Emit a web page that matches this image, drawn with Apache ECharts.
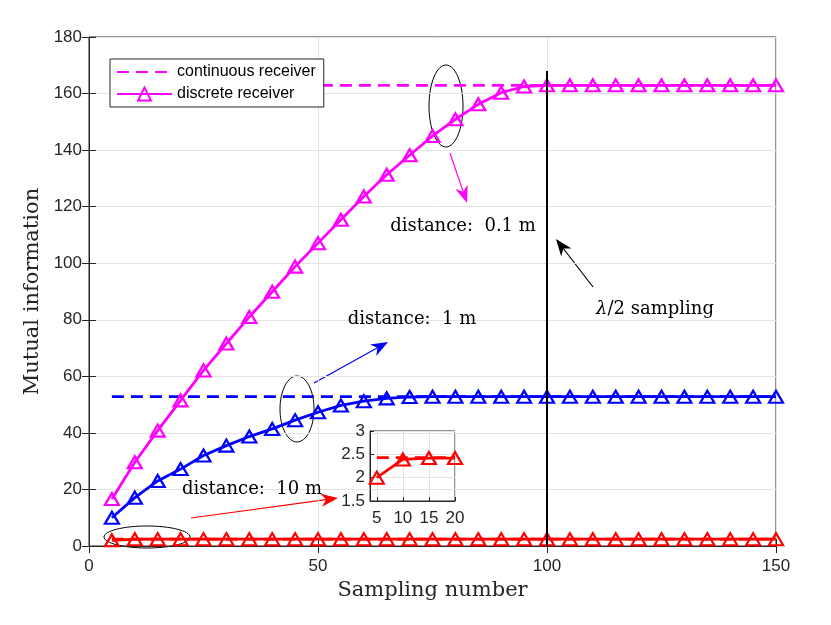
<!DOCTYPE html>
<html lang="en">
<head>
<meta charset="UTF-8">
<title>Mutual information vs sampling number</title>
<script src="https://cdn.jsdelivr.net/npm/echarts@6.0.0/dist/echarts.min.js"></script>
<style>
    html, body { margin: 0; padding: 0; background: #fff; }
    #main { width: 831px; height: 625px; }
</style>
</head>
<body>
<div id="main"></div>
<script type="text/javascript">

    // sampling number (x)
    var samplingNumber = [5, 10, 15, 20, 25, 30, 35, 40, 45, 50, 55, 60, 65, 70, 75,
        80, 85, 90, 95, 100, 105, 110, 115, 120, 125, 130, 135, 140, 145, 150];

    // distance 0.1 m
    var discrete01 = [16.6, 29.6, 40.8, 51.5, 62.1, 71.6, 81.0, 89.9, 98.8, 107.1, 115.4, 123.6, 131.3, 138.2, 145.0,
        150.9, 156.2, 160.3, 162.5, 162.9, 162.9, 162.9, 162.9, 162.9, 162.9, 162.9, 162.9, 162.9, 162.9, 162.9];
    var continuous01 = [162.9, 162.9, 162.9, 162.9, 162.9, 162.9, 162.9, 162.9, 162.9, 162.9, 162.9, 162.9, 162.9, 162.9, 162.9,
        162.9, 162.9, 162.9, 162.9, 162.9, 162.9, 162.9, 162.9, 162.9, 162.9, 162.9, 162.9, 162.9, 162.9, 162.9];

    // distance 1 m
    var discrete1 = [10.0, 17.1, 23.0, 27.2, 32.0, 35.5, 38.7, 41.4, 44.5, 47.3, 49.7, 51.2, 52.2, 52.7, 52.8,
        52.8, 52.8, 52.8, 52.8, 52.8, 52.8, 52.8, 52.8, 52.8, 52.8, 52.8, 52.8, 52.8, 52.8, 52.8];
    var continuous1 = [52.8, 52.8, 52.8, 52.8, 52.8, 52.8, 52.8, 52.8, 52.8, 52.8, 52.8, 52.8, 52.8, 52.8, 52.8,
        52.8, 52.8, 52.8, 52.8, 52.8, 52.8, 52.8, 52.8, 52.8, 52.8, 52.8, 52.8, 52.8, 52.8, 52.8];

    // distance 10 m
    var discrete10 = [2.0, 2.39, 2.42, 2.42, 2.42, 2.42, 2.42, 2.42, 2.42, 2.42, 2.42, 2.42, 2.42, 2.42, 2.42,
        2.42, 2.42, 2.42, 2.42, 2.42, 2.42, 2.42, 2.42, 2.42, 2.42, 2.42, 2.42, 2.42, 2.42, 2.42];
    var continuous10 = [2.43, 2.43, 2.43, 2.43, 2.43, 2.43, 2.43, 2.43, 2.43, 2.43, 2.43, 2.43, 2.43, 2.43, 2.43,
        2.43, 2.43, 2.43, 2.43, 2.43, 2.43, 2.43, 2.43, 2.43, 2.43, 2.43, 2.43, 2.43, 2.43, 2.43];

    // lambda/2 sampling marker line
    var lambdaLineX = [100, 100];
    var lambdaLineY = [0, 168];

    // inset shows the first points only
    var insetCount = 4;
    var insetTicks = [5, 10, 15, 20];

    var SANS = 'Liberation Sans, Arial, Helvetica, sans-serif';
    var SERIF = 'DejaVu Serif, serif';
    var AXIS = '#262626';
    var GRIDLINE = '#e3e3e3';

    function pairs(xs, ys, n) {
        var out = [];
        for (var i = 0; i < (n || xs.length); i++) out.push([xs[i], ys[i]]);
        return out;
    }

    function dashedSeries(name, ys, color, xi, yi, n) {
        return {
            name: name, type: 'line', xAxisIndex: xi, yAxisIndex: yi,
            data: pairs(samplingNumber, ys, n),
            showSymbol: false, symbol: 'none', silent: true,
            lineStyle: {color: color, width: 2.8, type: [12, 7]},
            itemStyle: {color: color}
        };
    }

    function markerSeries(name, ys, color, xi, yi, n) {
        return {
            name: name, type: 'line', xAxisIndex: xi, yAxisIndex: yi,
            data: pairs(samplingNumber, ys, n),
            symbol: 'triangle', symbolSize: [14, 12], showAllSymbol: true, silent: true,
            lineStyle: {color: color, width: 2.8},
            itemStyle: {color: 'rgba(255,255,255,0)', borderColor: color, borderWidth: 2.2}
        };
    }

    function arrow(x1, y1, x2, y2, color, w) {
        var dx = x2 - x1, dy = y2 - y1, len = Math.sqrt(dx * dx + dy * dy);
        var ux = dx / len, uy = dy / len, nx = -uy, ny = ux;
        var L = 17, W = 6.5, N = 12;
        return [
            {type: 'line', silent: true, shape: {x1: x1, y1: y1, x2: x2 - ux * N, y2: y2 - uy * N},
                style: {stroke: color, lineWidth: w}},
            {type: 'polygon', silent: true, shape: {points: [
                [x2, y2],
                [x2 - ux * L + nx * W, y2 - uy * L + ny * W],
                [x2 - ux * N, y2 - uy * N],
                [x2 - ux * L - nx * W, y2 - uy * L - ny * W]
            ]}, style: {fill: color}}
        ];
    }

    function ellipse(cx, cy, rx, ry) {
        return {type: 'ellipse', silent: true, shape: {cx: cx, cy: cy, rx: rx, ry: ry},
            style: {fill: 'none', stroke: '#000', lineWidth: 1}};
    }

    function label(x, y, text) {
        return {type: 'text', silent: true, x: x, y: y, z: 100,
            style: {text: text, fontFamily: SERIF, fontSize: 18, fill: '#000', align: 'center', verticalAlign: 'middle',
                rich: {i: {fontFamily: SERIF, fontSize: 18, fontStyle: 'italic', fill: '#000'}}}};
    }

    var myChart = echarts.init(document.getElementById('main'), null, {renderer: 'canvas'});

    var mainX = {
        gridIndex: 0, type: 'value', min: 0, max: 150, interval: 50,
        name: 'Sampling number', nameLocation: 'middle', nameGap: 26,
        nameTextStyle: {fontFamily: SERIF, fontSize: 21, color: '#262626'},
        axisLine: {show: true, onZero: false, lineStyle: {color: AXIS, width: 1}},
        axisTick: {show: true, inside: true, length: 7, lineStyle: {color: AXIS}},
        axisLabel: {fontFamily: SANS, fontSize: 17, color: AXIS, margin: 12},
        splitLine: {show: true, lineStyle: {color: GRIDLINE, width: 1}}
    };
    var mainY = {
        gridIndex: 0, type: 'value', min: 0, max: 180, interval: 20,
        name: 'Mutual information', nameLocation: 'middle', nameGap: 46,
        nameTextStyle: {fontFamily: SERIF, fontSize: 21, color: '#262626'},
        axisLine: {show: true, onZero: false, lineStyle: {color: AXIS, width: 1}},
        axisTick: {show: true, inside: true, length: 7, lineStyle: {color: AXIS}},
        axisLabel: {fontFamily: SANS, fontSize: 17, color: AXIS, margin: 7},
        splitLine: {show: true, lineStyle: {color: GRIDLINE, width: 1}}
    };

    var option = {
        animation: false,
        backgroundColor: '#fff',
        grid: [
            {left: 89, right: 55, top: 37, bottom: 79, show: true, borderColor: AXIS, borderWidth: 1, containLabel: false},
            {left: 370, top: 431, width: 85, height: 70, show: true, borderColor: AXIS, borderWidth: 1, containLabel: false}
        ],
        legend: {
            data: [
                {name: 'continuous receiver', itemStyle: {opacity: 0}},
                {name: 'discrete receiver'}
            ],
            orient: 'vertical', left: 110, top: 59,
            backgroundColor: '#fff', borderColor: AXIS, borderWidth: 1, borderRadius: 0,
            padding: [5, 8, 5, 6], itemGap: 6, itemWidth: 55, itemHeight: 16,
            textStyle: {fontFamily: SANS, fontSize: 16, color: '#000'},
            selectedMode: false
        },
        xAxis: [
            mainX,
            {gridIndex: 0, type: 'value', position: 'top', min: 0, max: 150, interval: 50,
                axisLine: {show: false}, axisLabel: {show: false}, splitLine: {show: false},
                axisTick: {show: true, inside: true, length: 7, lineStyle: {color: AXIS}}},
            {gridIndex: 1, type: 'value', min: 3.7, max: 20,
                axisLine: {show: true, onZero: false, lineStyle: {color: AXIS}},
                axisTick: {show: true, inside: true, length: 4, customValues: insetTicks, lineStyle: {color: AXIS}},
                axisLabel: {fontFamily: SANS, fontSize: 17, color: AXIS, margin: 9, customValues: insetTicks},
                splitLine: {show: true, lineStyle: {color: GRIDLINE}}}
        ],
        yAxis: [
            mainY,
            {gridIndex: 0, type: 'value', position: 'right', min: 0, max: 180, interval: 20,
                axisLine: {show: false}, axisLabel: {show: false}, splitLine: {show: false},
                axisTick: {show: true, inside: true, length: 7, lineStyle: {color: AXIS}}},
            {gridIndex: 1, type: 'value', min: 1.5, max: 3, interval: 0.5,
                axisLine: {show: true, onZero: false, lineStyle: {color: AXIS}},
                axisTick: {show: true, inside: true, length: 4, lineStyle: {color: AXIS}},
                axisLabel: {fontFamily: SANS, fontSize: 17, color: AXIS, margin: 5},
                splitLine: {show: true, lineStyle: {color: GRIDLINE}}}
        ],
        series: [
            dashedSeries('continuous 10 m', continuous10, '#ff0000', 0, 0),
            markerSeries('discrete 10 m', discrete10, '#ff0000', 0, 0),
            dashedSeries('continuous 1 m', continuous1, '#0000ff', 0, 0),
            markerSeries('discrete 1 m', discrete1, '#0000ff', 0, 0),
            dashedSeries('continuous receiver', continuous01, '#ff00ff', 0, 0),
            markerSeries('discrete receiver', discrete01, '#ff00ff', 0, 0),
            {
                name: 'lambda/2', type: 'line', xAxisIndex: 0, yAxisIndex: 0, z: 5,
                data: pairs(lambdaLineX, lambdaLineY), symbol: 'none', silent: true,
                lineStyle: {color: '#000', width: 2}
            },
            dashedSeries('inset continuous', continuous10, '#ff0000', 2, 2, insetCount),
            markerSeries('inset discrete', discrete10, '#ff0000', 2, 2, insetCount)
        ],
        graphic: [].concat(
            [ellipse(446, 106, 17, 41)],
            arrow(450, 153, 467, 203, '#ff00ff', 1.2),
            [label(463, 226, 'distance:  0.1 m')],
            arrow(593, 287, 556, 239, '#000', 1.2),
            [label(655, 309, '{i|λ}/2 sampling')],
            [ellipse(297, 409, 17, 33)],
            arrow(314, 383, 388, 342, '#0000ff', 1.2),
            [label(412, 319, 'distance:  1 m')],
            [ellipse(147, 537, 43, 11)],
            arrow(191, 518, 338, 498, '#ff0000', 1.2),
            [label(252, 489, 'distance:  10 m')]
        )
    };
    myChart.setOption(option);

</script>
</body>
</html>
